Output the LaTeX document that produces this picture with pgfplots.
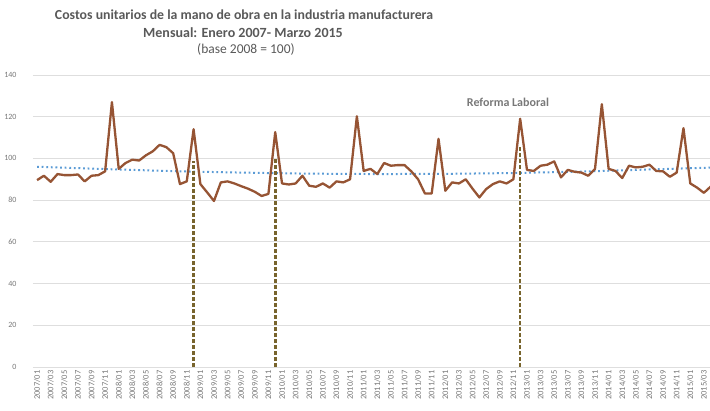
\documentclass[border=0pt]{standalone}
\usepackage{pgfplots}
\pgfplotsset{compat=1.18}
\usepackage{fontspec}
\setmainfont{Carlito}
\definecolor{titlegray}{RGB}{89,89,89}
\definecolor{linebrown}{RGB}{150,84,52}
\definecolor{trendblue}{RGB}{91,155,213}
\definecolor{dashol}{RGB}{120,100,45}
\definecolor{gridgray}{RGB}{222,222,222}
\definecolor{labgray}{RGB}{120,120,120}
\begin{document}
\begin{tikzpicture}[x=1pt,y=1pt]
\path[use as bounding box] (0,0) rectangle (710,410);
\begin{axis}[
  at={(33pt,43pt)}, anchor=south west,
  scale only axis, width=677pt, height=292pt,
  xmin=-0.6, xmax=98.9, ymin=0, ymax=140,
  ytick={0,20,...,140},
  xtick={0,2,...,98},
  xticklabels={2007/01,2007/03,2007/05,2007/07,2007/09,2007/11,
  2008/01,2008/03,2008/05,2008/07,2008/09,2008/11,
  2009/01,2009/03,2009/05,2009/07,2009/09,2009/11,
  2010/01,2010/03,2010/05,2010/07,2010/09,2010/11,
  2011/01,2011/03,2011/05,2011/07,2011/09,2011/11,
  2012/01,2012/03,2012/05,2012/07,2012/09,2012/11,
  2013/01,2013/03,2013/05,2013/07,2013/09,2013/11,
  2014/01,2014/03,2014/05,2014/07,2014/09,2014/11,
  2015/01,2015/03},
  xticklabel style={rotate=90, anchor=east, font=\fontsize{8.5}{9}\selectfont, text=labgray},
  yticklabel style={font=\fontsize{8}{9}\selectfont, text=labgray, xshift=-13pt},
  /pgf/number format/assume math mode=true,
  ymajorgrids, grid style={gridgray, line width=0.8pt},
  axis line style={draw=none},
  major tick length=0pt,
  clip mode=individual,
]
\addplot[trendblue, line width=2pt, dash pattern=on 1.8pt off 2.8pt] coordinates {
(0,96) (10,94.9) (20,93.9) (30,93.2) (40,92.7) (50,92.5) (60,92.6) (70,93.0) (80,93.7) (90,94.7) (99,95.6)};
\addplot[linebrown, line width=2.3pt, line join=round] coordinates {
(0,89.6) (1,91.7) (2,88.8) (3,92.5) (4,92) (5,92) (6,92.3) (7,89) (8,91.7) (9,92)
(10,93.8) (11,127) (12,95) (13,97.8) (14,99.4) (15,99) (16,101.5) (17,103.4) (18,106.5) (19,105.4)
(20,102.5) (21,87.7) (22,89) (23,114) (24,87.7) (25,83.7) (26,79.6) (27,88.5) (28,89) (29,88)
(30,86.7) (31,85.5) (32,84) (33,82) (34,83) (35,112.6) (36,88) (37,87.5) (38,88) (39,91.7)
(40,86.9) (41,86.4) (42,88) (43,86) (44,89) (45,88.5) (46,90) (47,120.2) (48,94) (49,95)
(50,92.5) (51,97.8) (52,96.5) (53,96.8) (54,96.8) (55,93.8) (56,90) (57,83.2) (58,83.2) (59,109.4)
(60,84.5) (61,88.5) (62,88) (63,90) (64,85.5) (65,81.3) (66,85.3) (67,87.7) (68,89) (69,88)
(70,90) (71,119) (72,94.5) (73,94) (74,96.5) (75,97) (76,98.6) (77,90.9) (78,94.5) (79,93.6)
(80,93.2) (81,91.7) (82,95) (83,126) (84,95) (85,94) (86,90.6) (87,96.5) (88,95.7) (89,96)
(90,97) (91,94) (92,93.8) (93,91.2) (94,93.2) (95,114.5) (96,88) (97,86) (98,83.5) (99,86.5)};
\addplot[dashol, line width=2.6pt, dash pattern=on 4pt off 2pt] coordinates {(23,0) (23,99)};
\addplot[dashol, line width=2.6pt, dash pattern=on 4pt off 2pt] coordinates {(35,0) (35,100)};
\addplot[dashol, line width=2.6pt, dash pattern=on 4pt off 2pt] coordinates {(71,0) (71,106)};
\node[font=\bfseries\fontsize{12}{14}\selectfont, text=labgray] at (axis cs:69.2,126.7) {Reforma Laboral};
\end{axis}
\node[font=\bfseries\fontsize{13.8}{16}\selectfont, text=titlegray] at (244,395) {Costos unitarios de la mano de obra en la industria manufacturera};
\node[font=\bfseries\fontsize{14}{16}\selectfont, text=titlegray] at (243,377) {Mensual: Enero 2007- Marzo 2015};
\node[font=\fontsize{13.5}{15}\selectfont, text=titlegray] at (246,360) {(base 2008 = 100)};
\end{tikzpicture}
\end{document}
